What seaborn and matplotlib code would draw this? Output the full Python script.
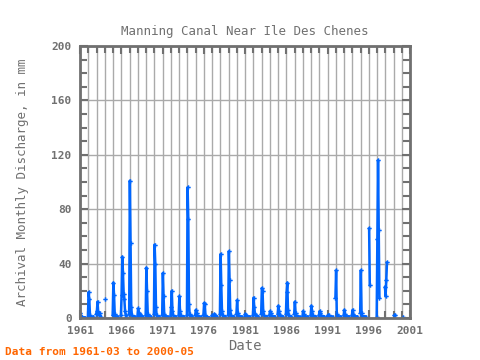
import numpy as np
import pandas as pd
import matplotlib
matplotlib.use("Agg")
import matplotlib.pyplot as plt
import seaborn as sns

nan = np.nan

# Monthly discharge (mm), one list per month, years 1961..2000; winter months missing
years = list(range(1961, 2001))
mar = [4, 1, 3, nan, 2, 2, 3, 1, 2, 3, 2, 1, 2, 2, 2, 2, 1, 3, 2, 3, 1, 2, 3, 2, 3, 3, 3, 1, 2, 2, 1, 15, 2, 2, 4, nan, 0.5, 23, nan, nan]
apr = [2, 19, 5, 14, 26, 17, 101, 7, 37, 54, 33, 8, 16, 96, 6, 11, 2, 47, 49, 13, 3, 15, 22, 5, 9, 19, 12, 5, 9, 5, 2, 35, 6, 6, 35, 66, 58, 16, 2, nan]
may = [1, 14, 12, nan, 17, 45, 55, 4, 20, 40, 16, 20, 5, 73, 4, 10, 1, 24, 28, 4, 2, 8, 20, 4, 5, 26, 4, 3, 5, 4, 2, 3, 3, 3, 4, 24, 116, 28, 2, 0.5]
jun = [0.5, 2, 4, nan, 3, 33, 8, 2, 3, 8, 3, 5, 2, 10, 2, 2, 1, 5, 6, 2, 1, 3, 5, 2, 2, 6, 2, 1, 2, 2, 1, 1, 1, 1, 1, nan, 65, 41, nan, nan]
jul = [0.3, 0.5, 2, nan, 1, 18, 2, 3, 1, 2, 1, 2, 1, 3, 1, 1, 3, 2, 2, 1, 1, 2, 2, 1, 2, 2, 1, 1, 1, 1, 1, 1, 1, 1, 1, nan, 15, nan, nan, nan]
aug = [0.2, 0.3, 4, nan, 0.5, 14, 1, 1, 0.5, 1, 0.5, 1, 0.5, 1, 1, 0.5, 2, 1, 1, 1, 0.5, 1, 1, 0.5, 1, 1, 0.5, 0.5, 0.5, 1, 0.5, 1, 1, 1, 1, nan, nan, nan, nan, nan]
sep = [0.2, 0.3, 1, nan, 0.5, 5, 1, 1, 0.5, 1, 0.5, 0.5, 0.5, 1, 0.5, 0.3, 1, 1, 1, 0.5, 0.5, 1, 1, 0.5, 1, 1, 0.5, 0.5, 0.5, 1, 0.5, 0.5, 1, 1, 1, nan, nan, nan, nan, nan]
oct_ = [0.3, 0.5, 1, nan, 0.5, 2, 1, 1, 1, 1, 1, 1, 1, 1, 0.5, 0.3, 1, 1, 1, 0.5, 0.5, 1, 1, 1, 1, 1, 0.5, 0.5, 0.5, 1, 0.5, 0.5, 1, 1, 1, nan, nan, nan, nan, nan]
nov = [0.3, 0.5, nan, nan, 0.5, 1, 1, 1, 1, 1, 1, 1, 1, 1, 0.5, 0.3, 1, 1, 1, 0.5, 0.5, 1, 1, 1, 1, 1, 0.5, 0.5, 0.5, 1, 0.5, 0.5, 1, 1, 1, nan, nan, nan, nan, nan]

month_cols = {3: mar, 4: apr, 5: may, 6: jun, 7: jul, 8: aug, 9: sep, 10: oct_, 11: nov}

rows = []
for i, yr in enumerate(years):
    for m in range(1, 13):
        v = month_cols[m][i] if m in month_cols else nan
        rows.append((yr + (m - 3.5) / 12, v))
df = pd.DataFrame(rows, columns=["t", "q"])

# segment id so that gaps (missing months) break the line
df["seg"] = df["q"].isna().cumsum()
df = df.dropna()

sns.set_style("white")
plt.rcParams["font.family"] = ["DejaVu Sans Mono"]
plt.rcParams["font.weight"] = "bold"

fig = plt.figure(figsize=(4.8, 3.6), dpi=100)
ax = fig.add_axes([0.1667, 0.1167, 0.6875, 0.7555])

gray = "#707070"
sns.lineplot(data=df, x="t", y="q", units="seg", estimator=None, color="#0066ff",
             linewidth=1.8, marker="P", markersize=3.2, markeredgewidth=0, ax=ax)

ax.set_xlim(1961, 2001)
ax.set_ylim(0, 200)
ax.set_xticks(range(1961, 2002, 5))
ax.set_xticks(range(1961, 2002), minor=True)
ax.set_yticks(range(0, 201, 40))
ax.set_yticks(range(0, 201, 10), minor=True)
ax.grid(True, which="minor", axis="x", color="#aaaaaa", linewidth=1)
ax.grid(True, which="major", axis="both", color="#aaaaaa", linewidth=1)
ax.tick_params(which="both", direction="in", top=True, bottom=True, left=True, right=True,
               color=gray, width=1.5, labelsize=8, labelcolor=gray, pad=6)
ax.tick_params(which="major", length=6)
ax.tick_params(which="minor", length=5)
for s in ax.spines.values():
    s.set_color(gray)
    s.set_linewidth(2)

ax.set_title("Manning Canal Near Ile Des Chenes", fontsize=9, color=gray, pad=8)
ax.set_xlabel("Date", fontsize=10, color=gray, labelpad=2)
ax.set_ylabel("Archival Monthly Discharge, in mm", fontsize=9, color=gray, labelpad=16)
fig.text(0.01, 0.015, "Data from 1961-03 to 2000-05", fontsize=8, color="#ff6600", weight="bold")

fig.savefig("out.png", dpi=100, facecolor="white")
